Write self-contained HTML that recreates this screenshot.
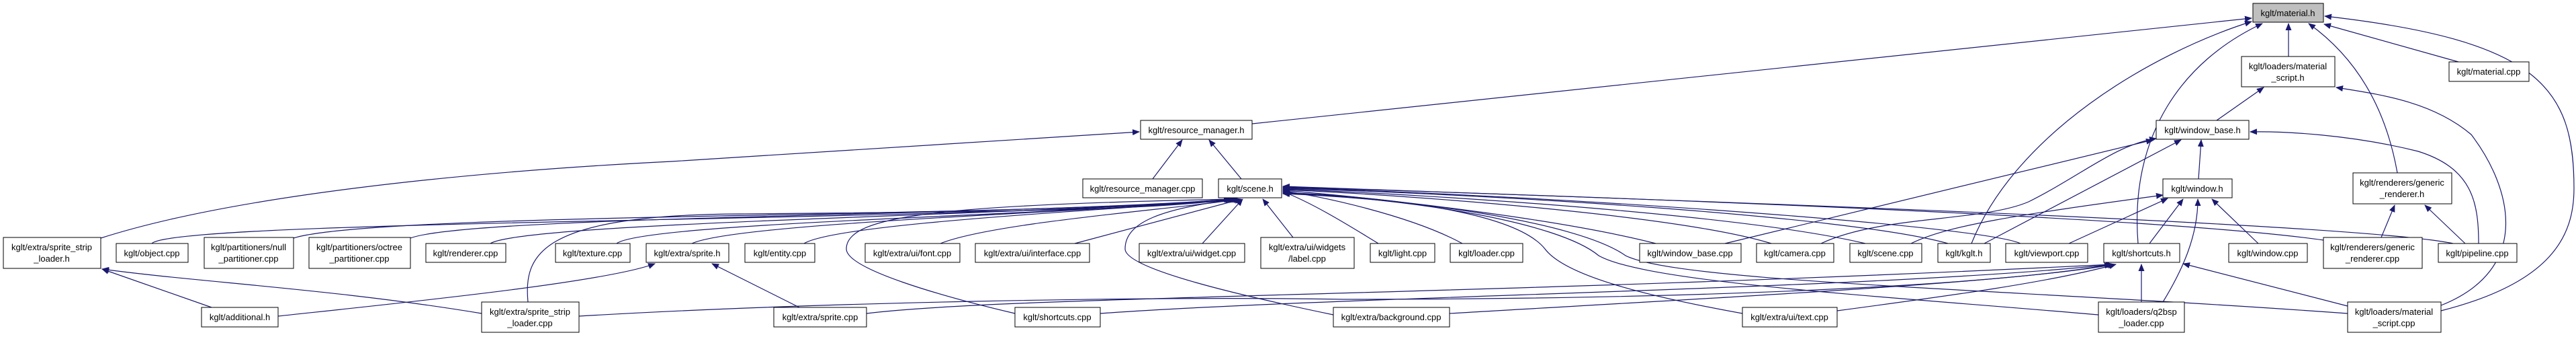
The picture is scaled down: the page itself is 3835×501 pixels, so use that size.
<!DOCTYPE html>
<html><head><meta charset="utf-8"><style>
html,body{margin:0;padding:0;background:#fff;}
svg{display:block;}
text{font-family:"Liberation Sans",Arial,sans-serif;font-size:13px;fill:#000;text-anchor:middle;}
.n{fill:#fff;stroke:#000;stroke-width:1;}
.e{fill:none;stroke:#191970;stroke-width:1.2;marker-end:url(#a);}
</style></head><body>
<svg width="3835" height="501" viewBox="0 0 3835 501" xmlns="http://www.w3.org/2000/svg">
<defs><marker id="a" markerWidth="11" markerHeight="9" refX="10" refY="4.5" orient="auto" markerUnits="userSpaceOnUse"><path d="M0,0 L11,4.5 L0,9z" fill="#191970"/></marker></defs>
<g>
<!-- scene.h incoming -->
<path class="e" d="M226,362 C260,325 1500,330 1832,296"/>
<path class="e" d="M437,354 C560,315 1500,325 1834,296"/>
<path class="e" d="M611,354 C700,320 1500,322 1836,296"/>
<path class="e" d="M730,362 C780,330 1550,320 1838,296"/>
<path class="e" d="M918,362 C960,330 1600,320 1840,296"/>
<path class="e" d="M1030,362 C1100,330 1650,315 1842,296"/>
<path class="e" d="M1197,362 C1250,330 1700,310 1844,296"/>
<path class="e" d="M1400,362 C1480,330 1760,310 1846,296"/>
<path class="e" d="M1600,362 L1848,296"/>
<path class="e" d="M1790,362 L1850,296"/>
<path class="e" d="M1925,353 L1880,296"/>
<path class="e" d="M786,449 C780,380 800,320 1100,318 C1400,315 1700,315 1834,296"/>
<path class="e" d="M1511,466 C1400,440 1260,400 1260,370 C1260,320 1400,305 1836,296"/>
<path class="e" d="M1985,468 C1850,440 1675,400 1675,370 C1675,330 1730,310 1840,296"/>
<path class="e" d="M2052,362 C2000,330 1950,300 1910,285"/>
<path class="e" d="M2177,362 C2100,320 1960,290 1910,284"/>
<path class="e" d="M2465,362 C2300,320 2000,290 1910,283"/>
<path class="e" d="M2637,362 C2500,320 2100,290 1910,282"/>
<path class="e" d="M2777,362 C2600,320 2150,290 1910,281"/>
<path class="e" d="M2900,362 C2750,320 2200,288 1910,280"/>
<path class="e" d="M3008,362 C2950,335 2300,290 1910,279"/>
<path class="e" d="M3459,357 C3200,320 2300,290 1910,278"/>
<path class="e" d="M3652,362 C3500,330 2400,295 1910,277"/>
<path class="e" d="M2594,466 C2450,440 2330,410 2300,370 C2260,320 2100,295 1910,286"/>
<path class="e" d="M3124,468 C2800,440 2450,420 2380,380 C2320,330 2100,295 1910,287"/>
<path class="e" d="M3495,466 C3000,430 2500,420 2420,380 C2350,330 2100,295 1910,288"/>
<!-- resource_manager.h -->
<path class="e" d="M1716,266 L1760,208"/>
<path class="e" d="M1848,266 L1800,208"/>
<path class="e" d="M150,354 C350,290 700,255 1000,240 L1696,196"/>
<!-- material.h -->
<path class="e" d="M1864,184 L3352,27"/>
<path class="e" d="M2935,362 C3000,200 3200,80 3352,32"/>
<path class="e" d="M3183,362 C3170,200 3250,90 3368,35"/>
<path class="e" d="M3407,84 L3407,35"/>
<path class="e" d="M3569,257 C3550,150 3500,80 3437,35"/>
<path class="e" d="M3660,92 L3460,36"/>
<path class="e" d="M3634,462 C3800,420 3832,350 3832,280 C3832,130 3780,60 3461,24"/>
<!-- material_script.h -->
<path class="e" d="M3300,179 L3370,130"/>
<path class="e" d="M3634,454 C3770,400 3740,280 3679,200 C3620,150 3540,140 3478,130"/>
<!-- window_base.h -->
<path class="e" d="M2568,362 L3205,208"/>
<path class="e" d="M2711,362 C2800,320 2950,330 3020,300 C3100,260 3150,215 3210,206"/>
<path class="e" d="M2954,362 L3247,208"/>
<path class="e" d="M3273,266 L3277,208"/>
<path class="e" d="M3690,362 C3690,300 3680,250 3600,225 C3500,200 3400,195 3350,196"/>
<!-- window.h -->
<path class="e" d="M2845,362 C2900,335 3000,320 3220,290"/>
<path class="e" d="M3080,362 L3227,295"/>
<path class="e" d="M3200,362 L3250,296"/>
<path class="e" d="M3220,449 C3250,400 3272,350 3272,296"/>
<path class="e" d="M3362,362 L3293,296"/>
<!-- shortcuts.h -->
<path class="e" d="M3188,449 L3188,393"/>
<path class="e" d="M3495,455 L3250,392"/>
<path class="e" d="M862,470 C1200,450 1700,440 2000,445 C2600,445 3000,420 3143,393"/>
<path class="e" d="M1290,466 C1500,440 2200,440 3145,393"/>
<path class="e" d="M1638,466 C2000,440 2800,430 3146,393"/>
<path class="e" d="M2158,466 C2600,440 3000,420 3148,393"/>
<path class="e" d="M2735,462 C2900,440 3050,420 3150,393"/>
<!-- sprite_strip_loader.h / sprite.h -->
<path class="e" d="M315,457 L152,400"/>
<path class="e" d="M717,466 C500,430 300,420 152,400"/>
<path class="e" d="M414,470 C600,450 900,420 975,392"/>
<path class="e" d="M1190,457 L1060,392"/>
<!-- generic_renderer.h -->
<path class="e" d="M3545,353 L3565,305"/>
<path class="e" d="M3670,362 L3610,305"/>
</g>
<g>
<rect class="n" x="5" y="353" width="145" height="46"/><text x="77" y="372">kglt/extra/sprite_strip</text><text x="77" y="389">_loader.h</text>
<rect class="n" x="173" y="362" width="107" height="28"/><text x="226" y="381">kglt/object.cpp</text>
<rect class="n" x="304" y="353" width="133" height="46"/><text x="370" y="372">kglt/partitioners/null</text><text x="370" y="389">_partitioner.cpp</text>
<rect class="n" x="460" y="353" width="151" height="46"/><text x="535" y="372">kglt/partitioners/octree</text><text x="535" y="389">_partitioner.cpp</text>
<rect class="n" x="634" y="362" width="119" height="28"/><text x="693" y="381">kglt/renderer.cpp</text>
<rect class="n" x="827" y="362" width="111" height="28"/><text x="882" y="381">kglt/texture.cpp</text>
<rect class="n" x="962" y="362" width="123" height="28"/><text x="1023" y="381">kglt/extra/sprite.h</text>
<rect class="n" x="1109" y="362" width="104" height="28"/><text x="1161" y="381">kglt/entity.cpp</text>
<rect class="n" x="1288" y="362" width="141" height="28"/><text x="1358" y="381">kglt/extra/ui/font.cpp</text>
<rect class="n" x="1452" y="362" width="170" height="28"/><text x="1537" y="381">kglt/extra/ui/interface.cpp</text>
<rect class="n" x="1696" y="362" width="157" height="28"/><text x="1774" y="381">kglt/extra/ui/widget.cpp</text>
<rect class="n" x="1877" y="353" width="139" height="46"/><text x="1946" y="372">kglt/extra/ui/widgets</text><text x="1946" y="389">/label.cpp</text>
<rect class="n" x="2040" y="362" width="96" height="28"/><text x="2088" y="381">kglt/light.cpp</text>
<rect class="n" x="2159" y="362" width="108" height="28"/><text x="2213" y="381">kglt/loader.cpp</text>
<rect class="n" x="2441" y="362" width="151" height="28"/><text x="2516" y="381">kglt/window_base.cpp</text>
<rect class="n" x="2615" y="362" width="115" height="28"/><text x="2672" y="381">kglt/camera.cpp</text>
<rect class="n" x="2754" y="362" width="107" height="28"/><text x="2807" y="381">kglt/scene.cpp</text>
<rect class="n" x="2885" y="362" width="78" height="28"/><text x="2924" y="381">kglt/kglt.h</text>
<rect class="n" x="2986" y="362" width="122" height="28"/><text x="3047" y="381">kglt/viewport.cpp</text>
<rect class="n" x="3132" y="362" width="113" height="28"/><text x="3188" y="381">kglt/shortcuts.h</text>
<rect class="n" x="3318" y="362" width="117" height="28"/><text x="3376" y="381">kglt/window.cpp</text>
<rect class="n" x="3459" y="353" width="147" height="46"/><text x="3532" y="372">kglt/renderers/generic</text><text x="3532" y="389">_renderer.cpp</text>
<rect class="n" x="3630" y="362" width="117" height="28"/><text x="3688" y="381">kglt/pipeline.cpp</text>
<rect class="n" x="300" y="457" width="114" height="29"/><text x="357" y="476">kglt/additional.h</text>
<rect class="n" x="717" y="449" width="145" height="45"/><text x="789" y="468">kglt/extra/sprite_strip</text><text x="789" y="485">_loader.cpp</text>
<rect class="n" x="1152" y="457" width="138" height="29"/><text x="1221" y="476">kglt/extra/sprite.cpp</text>
<rect class="n" x="1511" y="457" width="127" height="29"/><text x="1574" y="476">kglt/shortcuts.cpp</text>
<rect class="n" x="1985" y="457" width="173" height="29"/><text x="2071" y="476">kglt/extra/background.cpp</text>
<rect class="n" x="2594" y="457" width="141" height="29"/><text x="2664" y="476">kglt/extra/ui/text.cpp</text>
<rect class="n" x="3124" y="449" width="128" height="45"/><text x="3188" y="468">kglt/loaders/q2bsp</text><text x="3188" y="485">_loader.cpp</text>
<rect class="n" x="3495" y="449" width="139" height="45"/><text x="3564" y="468">kglt/loaders/material</text><text x="3564" y="485">_script.cpp</text>
<rect class="n" x="1698" y="179" width="166" height="28"/><text x="1781" y="198">kglt/resource_manager.h</text>
<rect class="n" x="1612" y="266" width="178" height="28"/><text x="1701" y="285">kglt/resource_manager.cpp</text>
<rect class="n" x="1814" y="266" width="94" height="28"/><text x="1861" y="285">kglt/scene.h</text>
<rect class="n" x="3210" y="179" width="138" height="28"/><text x="3279" y="198">kglt/window_base.h</text>
<rect class="n" x="3220" y="266" width="103" height="28"/><text x="3271" y="285">kglt/window.h</text>
<rect class="n" x="3503" y="257" width="147" height="46"/><text x="3576" y="276">kglt/renderers/generic</text><text x="3576" y="293">_renderer.h</text>
<rect class="n" x="3337" y="84" width="139" height="45"/><text x="3406" y="103">kglt/loaders/material</text><text x="3406" y="120">_script.h</text>
<rect class="n" x="3646" y="92" width="119" height="29"/><text x="3705" y="111">kglt/material.cpp</text>
<rect x="3354" y="5" width="105" height="28" fill="#bfbfbf" stroke="#000"/><text x="3406" y="24">kglt/material.h</text>
</g>
</svg>
</body></html>
